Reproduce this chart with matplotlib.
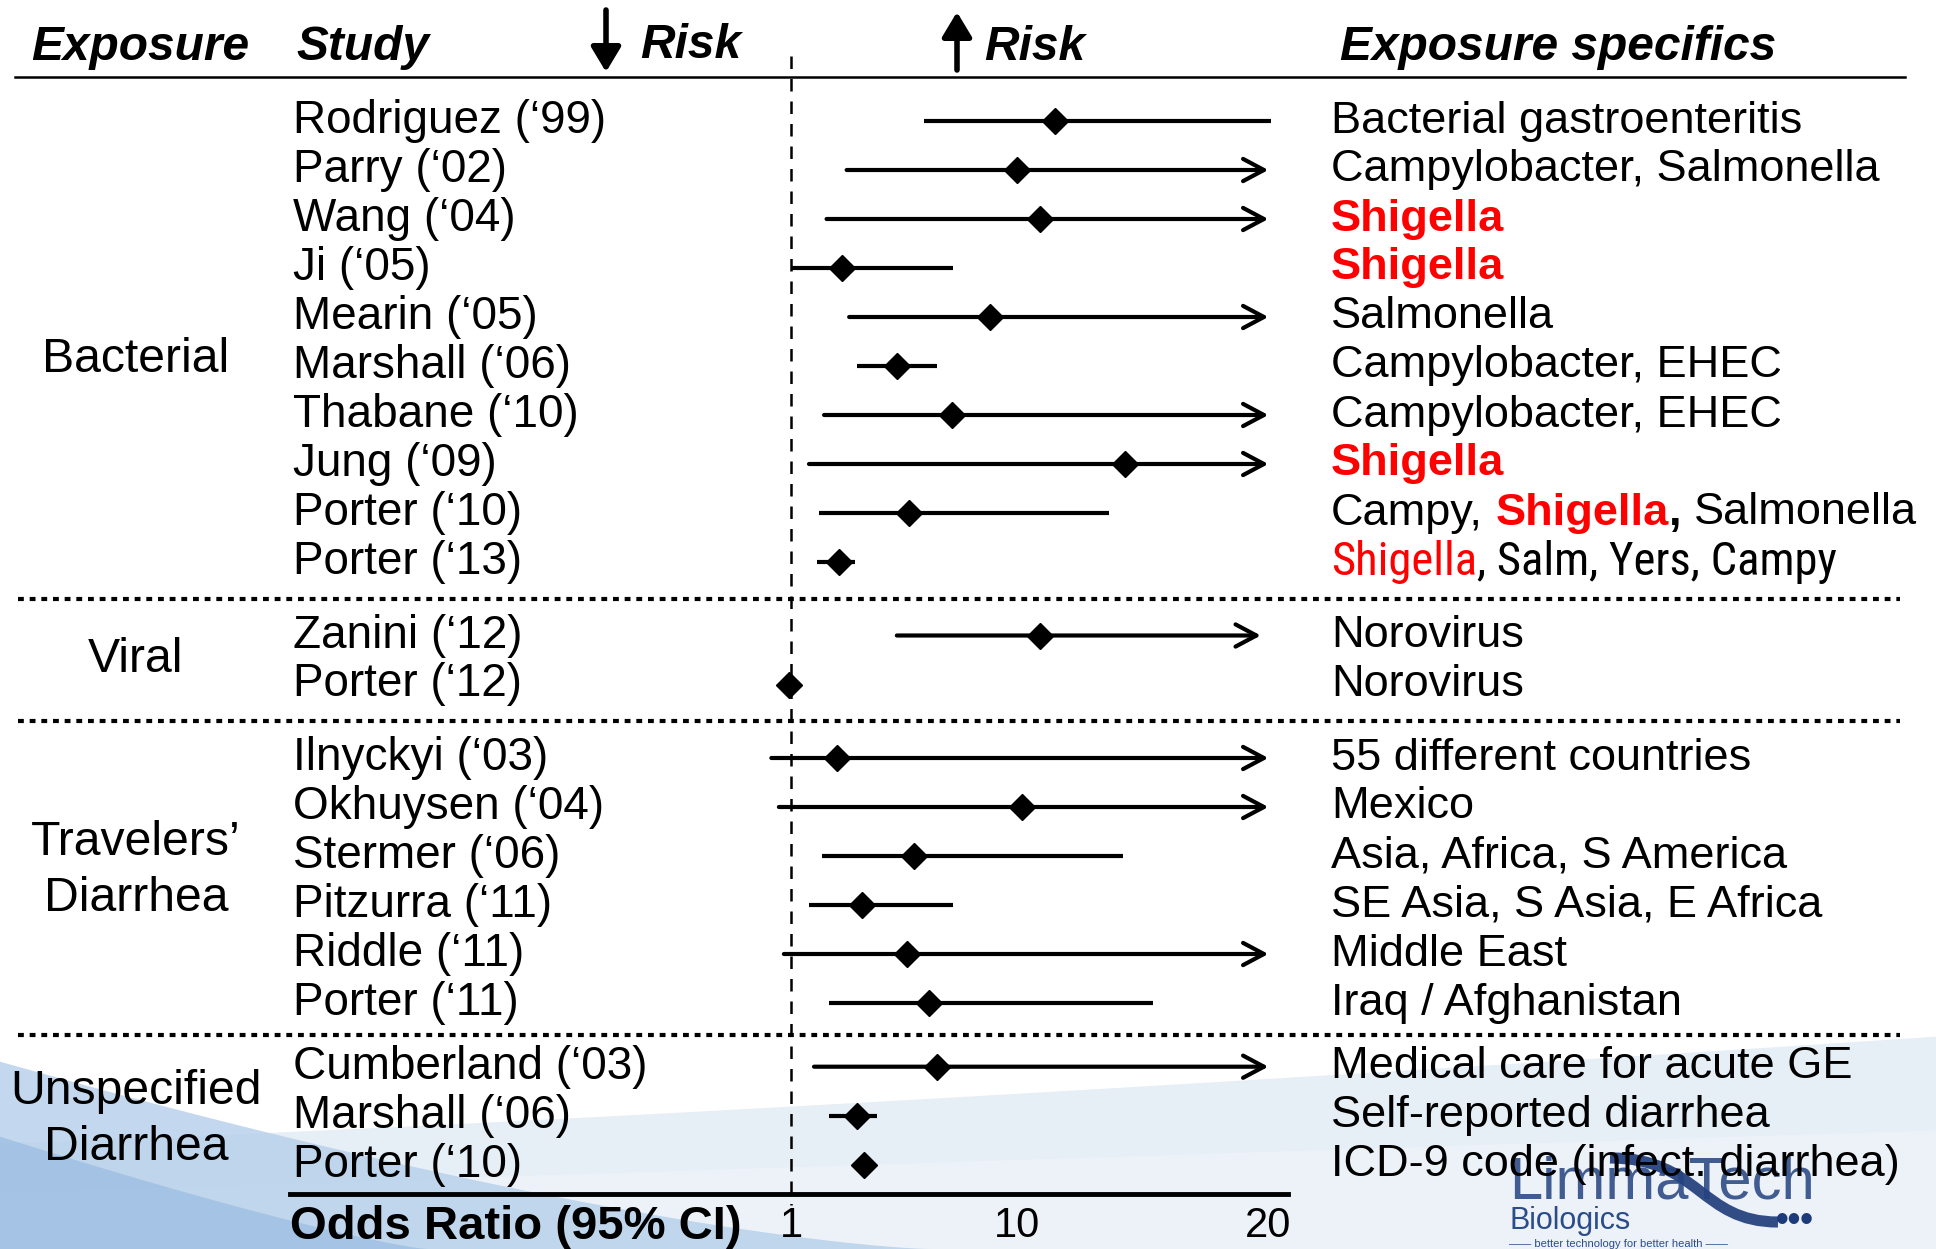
import matplotlib
matplotlib.use('Agg')
import matplotlib.pyplot as plt
import matplotlib.transforms as mtransforms
from matplotlib import font_manager
from matplotlib.path import Path
from matplotlib.patches import PathPatch
import numpy as np

##########################
# forest plot: infectious exposures and odds ratio (95% CI)

groups = ['Bacterial', 'Viral', 'Travelers\u2019\nDiarrhea', 'Unspecified\nDiarrhea']
group_sizes = [10, 2, 6, 3]

studies = ['Rodriguez (\u201899)', 'Parry (\u201802)', 'Wang (\u201804)', 'Ji (\u201805)',
           'Mearin (\u201805)', 'Marshall (\u201806)', 'Thabane (\u201810)', 'Jung (\u201809)',
           'Porter (\u201810)', 'Porter (\u201813)',
           'Zanini (\u201812)', 'Porter (\u201812)',
           'Ilnyckyi (\u201803)', 'Okhuysen (\u201804)', 'Stermer (\u201806)', 'Pitzurra (\u201811)',
           'Riddle (\u201811)', 'Porter (\u201811)',
           'Cumberland (\u201803)', 'Marshall (\u201806)', 'Porter (\u201810)']

odds    = [11.5, 10.0, 10.9, 3.0, 8.9, 5.2, 7.4, 14.3, 5.7, 2.9,
           10.9, 0.9,
           2.8, 10.2, 5.9, 3.8, 5.6, 6.5,
           6.8, 3.6, 3.9]
ci_low  = [6.3, 3.2, 2.4, 1.0, 3.3, 3.6, 2.3, 1.7, 2.1, 2.0,
           5.2, 0.6,
           0.2, 0.5, 2.2, 1.7, 0.7, 2.5,
           1.9, 2.5, 3.6]
ci_high = [20.1, 20, 20, 7.45, 20, 6.8, 20, 20, 13.65, 3.55,
           19.7, 1.2,
           20, 20, 14.2, 7.45, 20, 15.4,
           20, 4.4, 4.2]
open_ended = [False, True, True, False, True, False, True, True, False, False,
              True, False,
              True, True, False, False, True, False,
              True, False, False]

# exposure specifics: (text, style); n = normal, s = red bold, b = black bold,
# nr / nn = narrow red / narrow black
specifics = [
    [('Bacterial gastroenteritis', 'n')],
    [('Campylobacter, Salmonella', 'n')],
    [('Shigella', 's')],
    [('Shigella', 's')],
    [('Salmonella', 'n')],
    [('Campylobacter, EHEC', 'n')],
    [('Campylobacter, EHEC', 'n')],
    [('Shigella', 's')],
    [('Campy,', 'n'), (' Shigella', 's'), (',', 'b'), (' Salmonella', 'n')],
    [('Shigella', 'nr'), (', Salm, Yers, Campy', 'nn')],
    [('Norovirus', 'n')],
    [('Norovirus', 'n')],
    [('55 different countries', 'n')],
    [('Mexico', 'n')],
    [('Asia, Africa, S America', 'n')],
    [('SE Asia, S Asia, E Africa', 'n')],
    [('Middle East', 'n')],
    [('Iraq / Afghanistan', 'n')],
    [('Medical care for acute GE', 'n')],
    [('Self-reported diarrhea', 'n')],
    [('ICD-9 code (infect. diarrhea)', 'n')],
]

tick_values = [1, 10, 20]

plt.rcParams['font.family'] = ['Liberation Sans', 'DejaVu Sans']

installed = {f.name for f in font_manager.fontManager.ttflist}
narrow_family = 'Liberation Sans'
for cand in ['Liberation Sans Narrow', 'Arial Narrow', 'Roboto Condensed',
             'DejaVu Sans Condensed']:
    if cand in installed:
        narrow_family = cand
        break

W, H = 1936, 1249
ROW0, STEP = 121.0, 49.0

fig = plt.figure(figsize=(W / 100, H / 100), dpi=100)
ax = fig.add_axes([0, 0, 1, 1])
ax.set_xlim(-30.53, 46.60)
ax.set_ylim((H - ROW0) / STEP, -ROW0 / STEP)
ax.axis('off')

def fx(px):
    return px / W

def fy(px):
    return 1 - px / H

def row(px):
    return (px - ROW0) / STEP

tx = mtransforms.blended_transform_factory(ax.transAxes, ax.transData)
dx = mtransforms.blended_transform_factory(ax.transData, ax.transAxes)

# background swoosh (slide decoration)
xs = np.linspace(0, 1, 300)
ax.fill_between(xs, 0, 0.085 + 0.085 * xs ** 1.2, transform=ax.transAxes,
                color='#e2ebf5', alpha=0.85, lw=0, zorder=0)
ax.fill_between(xs, 0, 0.045 + 0.05 * xs, transform=ax.transAxes,
                color='#eef3f9', alpha=0.9, lw=0, zorder=0)
ax.fill_between(xs, 0, 0.15 * np.clip(1 - xs / 0.48, 0, None) ** 1.4, transform=ax.transAxes,
                color='#b5cfea', alpha=0.8, lw=0, zorder=0)
ax.fill_between(xs, 0, 0.09 * np.clip(1 - xs / 0.22, 0, None) ** 1.2, transform=ax.transAxes,
                color='#8fb5de', alpha=0.55, lw=0, zorder=0)

# row positions
ys = []
pos = 0.0
gaps = [0, 0.5, 0.5, 0.3]
starts = []
for g, n in enumerate(group_sizes):
    pos += gaps[g]
    starts.append(len(ys))
    for k in range(n):
        ys.append(pos)
        pos += 1
ys = np.array(ys)

# header
hdr = dict(transform=ax.transAxes, fontsize=34.5, fontweight='bold', style='italic',
           va='center')
ax.text(fx(31), fy(47), 'Exposure', **hdr)
ax.text(fx(296), fy(47), 'Study', **hdr)
ax.text(fx(640), fy(45), 'Risk', **hdr)
ax.text(fx(984), fy(47), 'Risk', **hdr)
ax.text(fx(1340), fy(47), 'Exposure specifics', **hdr)
arr = dict(arrowstyle='-|>,head_length=0.5,head_width=0.3', lw=4, color='black',
           shrinkA=0, shrinkB=0, mutation_scale=30)
ax.annotate('', xy=(fx(606), fy(72)), xytext=(fx(606), fy(10)),
            xycoords='axes fraction', textcoords='axes fraction', arrowprops=arr)
ax.annotate('', xy=(fx(957), fy(12)), xytext=(fx(957), fy(70)),
            xycoords='axes fraction', textcoords='axes fraction', arrowprops=arr)
ax.plot([fx(15), fx(1905)], [fy(77), fy(77)], transform=ax.transAxes,
        color='black', lw=1.8)

# reference line at OR = 1
ax.plot([1, 1], [row(56), row(1205)], color='black', lw=1.8,
        linestyle=(0, (5, 4)), zorder=2)

# group separators
for g in range(1, len(groups)):
    ysep = (ys[starts[g] - 1] + ys[starts[g]]) / 2
    ax.plot([fx(18), fx(1900)], [ysep, ysep], transform=tx, color='black',
            lw=3, linestyle=(0, (1.4, 1.4)))

# group labels
label_shift = [0.36, 0.0, -0.2, 0.08]
for g, name in enumerate(groups):
    ym = ys[starts[g]:starts[g] + group_sizes[g]].mean() + label_shift[g]
    ax.text(fx(136), ym, name, transform=tx, fontsize=34.7, ha='center',
            va='center', linespacing=1.32)

# study names
for i, s in enumerate(studies):
    ax.text(fx(293), ys[i], s, transform=tx, fontsize=33, va='center')

# confidence intervals
for i in range(len(studies)):
    if open_ended[i]:
        ax.annotate('', xy=(ci_high[i], ys[i]), xytext=(ci_low[i], ys[i]),
                    arrowprops=dict(arrowstyle='->,head_length=0.75,head_width=0.4',
                                    lw=3, color='black', shrinkA=0, shrinkB=0,
                                    mutation_scale=20))
    else:
        ax.plot([ci_low[i], ci_high[i]], [ys[i], ys[i]], color='black', lw=3,
                solid_capstyle='butt')
ax.plot(odds, ys, 'D', ms=13, color='black', zorder=4)

# exposure specifics (mixed styles in one line)
styles = {
    'n': dict(fontsize=32.5, color='black'),
    'b': dict(fontsize=32.5, color='black', fontweight='bold'),
    's': dict(fontsize=32.5, color='#ff0000', fontweight='bold'),
    'nr': dict(fontsize=35, color='#ff0000', family=[narrow_family, 'DejaVu Sans']),
    'nn': dict(fontsize=35, color='black', family=[narrow_family, 'DejaVu Sans']),
}
renderer = fig.canvas.get_renderer()

def draw_line(segs, y, scale=1.0):
    x = fx(1331)
    drawn = []
    for txt, st in segs:
        kw = dict(styles[st])
        kw['fontsize'] = kw['fontsize'] * scale
        if txt.startswith(' '):
            x += 0.278 * kw['fontsize'] * 100 / 72 / W
            txt = txt.lstrip()
        t = ax.text(x, y, txt, transform=tx, va='center', zorder=3, **kw)
        bb = t.get_window_extent(renderer)
        x += bb.width / W
        drawn.append(t)
    return drawn, x - fx(1331)

for i, segs in enumerate(specifics):
    drawn, width = draw_line(segs, ys[i])
    if segs[0][1] == 'nr' and width * W > 506:
        # no condensed face: shrink the line to the reference width
        for t in drawn:
            t.remove()
        draw_line(segs, ys[i], 506 / (width * W))

# odds ratio axis
ax.plot([fx(290), fx(1288)], [fy(1194), fy(1194)], transform=ax.transAxes,
        color='black', lw=3.5)
for v in tick_values:
    ax.text(v, fy(1226), str(v), transform=dx, fontsize=30, ha='center', va='center')
ax.text(fx(290), fy(1227), 'Odds Ratio (95% CI)', transform=ax.transAxes,
        fontsize=34, fontweight='bold', va='center')

# logo
swoosh = Path([(fx(1610), fy(1158)), (fx(1700), fy(1158)), (fx(1700), fy(1222)),
               (fx(1778), fy(1222))],
              [Path.MOVETO, Path.CURVE4, Path.CURVE4, Path.CURVE4])
ax.add_patch(PathPatch(swoosh, transform=ax.transAxes, fill=False, lw=8,
                       edgecolor='#1d3a7a', alpha=0.9, zorder=1))
ax.text(fx(1509), fy(1183), 'LimmaTech', transform=ax.transAxes, fontsize=43,
        color='#23427f', alpha=0.85, va='center', zorder=1)
ax.text(fx(1509), fy(1221), 'Biologics', transform=ax.transAxes, fontsize=22,
        color='#2a4d8a', va='center', zorder=1)
ax.text(fx(1776), fy(1222), '\u2022\u2022\u2022', transform=ax.transAxes, fontsize=26,
        color='#1d3a7a', va='center', fontweight='bold', zorder=1)
ax.text(fx(1509), fy(1244), '\u2014\u2014 better technology for better health \u2014\u2014',
        transform=ax.transAxes, fontsize=8, color='#2a4d8a', va='center', zorder=1)

plt.savefig('out.png', dpi=100)
